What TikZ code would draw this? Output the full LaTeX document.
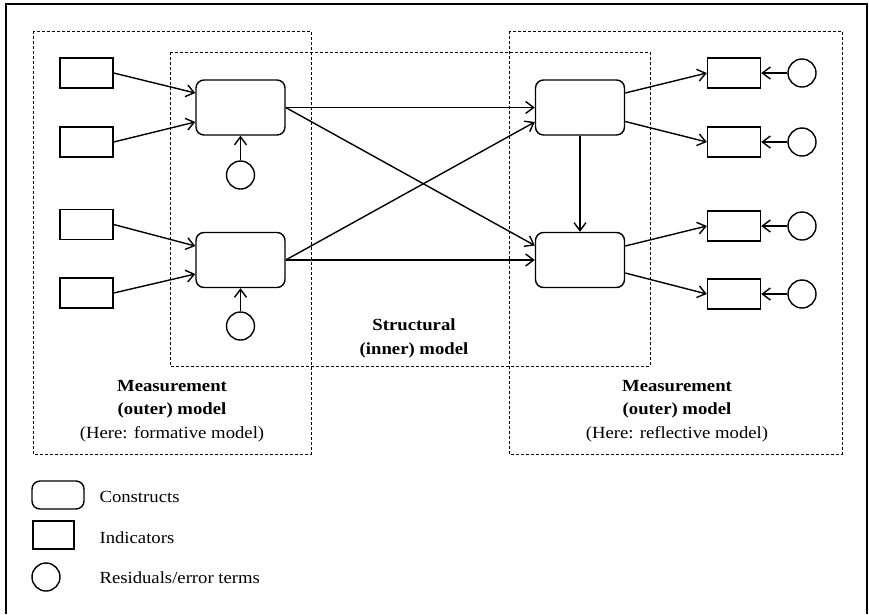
\documentclass[tikz,border=0pt]{standalone}
\usepackage{fontspec}
\setmainfont{Liberation Serif}[FakeStretch=1.1]
\usetikzlibrary{arrows.meta,calc}

\tikzset{
  construct/.style={draw, line width=1.4pt, rounded corners=8pt,
    minimum width=89pt, minimum height=55pt, inner sep=0pt},
  indicator/.style={draw, line width=1.4pt,
    minimum width=53pt, minimum height=30pt, inner sep=0pt},
  residual/.style={draw, line width=1.4pt, circle,
    minimum size=28pt, inner sep=0pt},
  link/.style={-{Straight Barb[length=8pt,width=12pt]}, line width=1.4pt},
  modelbox/.style={dash pattern=on 3pt off 2pt, line width=1pt},
  boldlabel/.style={font=\fontsize{17}{20}\selectfont\bfseries, anchor=base},
  plainlabel/.style={font=\fontsize{17}{20}\selectfont, anchor=base},
}

\begin{document}
\begin{tikzpicture}[x=1pt, y=-1pt]

  \useasboundingbox (0,0) rectangle (869,614);

  \newcommand\LX{86.5}
  \newcommand\RX{734}

  %% frame
  \draw[line width=1.4pt] (6,614) -- (6,4) -- (867,4) -- (867,614);

  %% model boxes
  \draw[modelbox] (33,31) rectangle (311,454);   % outer, left
  \draw[modelbox] (509,31) rectangle (842,454);  % outer, right
  \draw[modelbox] (170,52) rectangle (650,366);  % inner

  %% constructs
  \node[construct] (cA) at (240.5,107.5) {};
  \node[construct] (cB) at (240.5,260) {};
  \node[construct] (cC) at (580,107.5) {};
  \node[construct] (cD) at (580,260) {};

  %% formative side
  \node[indicator] (xA1) at (\LX,73) {};
  \node[indicator] (xA2) at (\LX,142) {};
  \node[indicator] (xB1) at (\LX,224.5) {};
  \node[indicator] (xB2) at (\LX,293) {};
  \node[residual] (zA) at (240.5,175) {};
  \node[residual] (zB) at (240.5,326) {};

  \draw[link] (xA1.east) -- ([yshift=14.5pt]cA.west);
  \draw[link] (xA2.east) -- ([yshift=-14.5pt]cA.west);
  \draw[link] (xB1.east) -- ([yshift=14pt]cB.west);
  \draw[link] (xB2.east) -- ([yshift=-14pt]cB.west);
  \draw[link] (zA) -- (cA);
  \draw[link] (zB) -- (cB);

  %% reflective side
  \foreach \n/\y in {yC1/73, yC2/142, yD1/226, yD2/294}{
    \node[indicator] (\n) at (\RX,\y) {};
    \node[residual] (e\n) at (802,\y) {};
    \draw[link] (e\n.west) -- (\n.east);
  }
  \draw[link] ([yshift=14.5pt]cC.east) -- (yC1.west);
  \draw[link] ([yshift=-14pt]cC.east) -- (yC2.west);
  \draw[link] ([yshift=14pt]cD.east) -- (yD1.west);
  \draw[link] ([yshift=-13pt]cD.east) -- (yD2.west);

  %% structural paths
  \draw[link] (cA.east) -- (cC.west);
  \draw[link] (cA.east) -- ([yshift=14.5pt]cD.west);
  \draw[link] (cB.east) -- ([yshift=-14.5pt]cC.west);
  \draw[link] (cB.east) -- (cD.west);
  \draw[link] (cC) -- (cD);

  %% labels
  \node[boldlabel] (sL1) at (414,330) {Structural};
  \node[boldlabel] (sL2) at (414,354) {(inner) model};
  \node[boldlabel] (mL1) at (172,391) {Measurement};
  \node[boldlabel] (mL2) at (172,414) {(outer) model};
  \node[plainlabel] (mL3) at (172,438) {(Here: formative model)};
  \node[boldlabel] (mR1) at (677,391) {Measurement};
  \node[boldlabel] (mR2) at (677,414) {(outer) model};
  \node[plainlabel] (mR3) at (677,438) {(Here: reflective model)};

  %% legend
  \node[construct, minimum width=52pt, minimum height=28pt] (kC) at (58,495) {};
  \node[indicator, minimum width=41pt, minimum height=28pt] (kI) at (53.5,535) {};
  \node[residual] (kR) at (46,577) {};
  \node[plainlabel, anchor=base west] (tC) at (96,502) {Constructs};
  \node[plainlabel, anchor=base west] (tI) at (96,543) {Indicators};
  \node[plainlabel, anchor=base west] (tR) at (96,583) {Residuals/error terms};

\end{tikzpicture}
\end{document}
